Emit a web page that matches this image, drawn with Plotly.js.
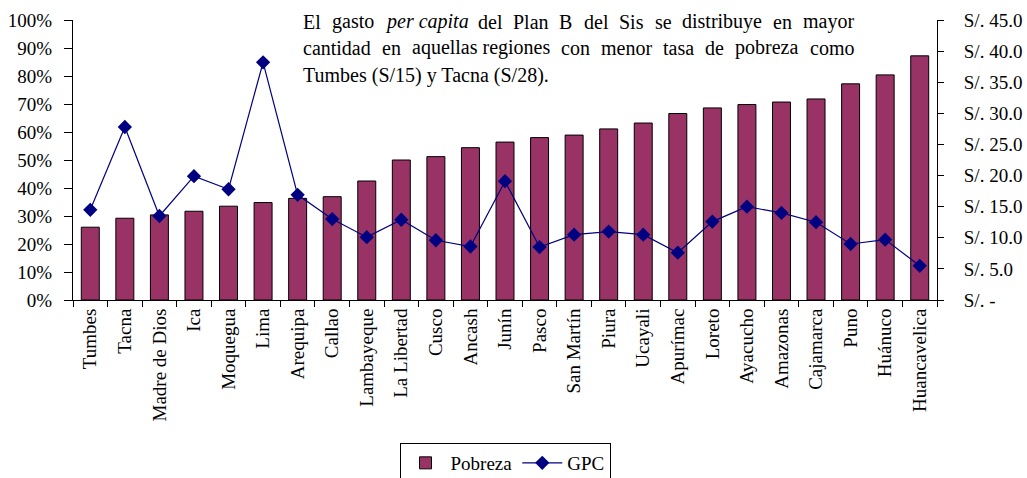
<!DOCTYPE html>
<html>
<head>
<meta charset="utf-8">
<script src="https://cdn.plot.ly/plotly-3.0.1.min.js"></script>
<style>html,body{margin:0;padding:0;background:#fff;}#chart{width:1027px;height:478px;}</style>
</head>
<body>
<div id="chart"></div>
<script>
const regions = ["Tumbes","Tacna","Madre de Dios","Ica","Moquegua","Lima","Arequipa","Callao","Lambayeque","La Libertad","Cusco","Ancash","Junín","Pasco","San Martín","Piura","Ucayali","Apurímac","Loreto","Ayacucho","Amazonas","Cajamarca","Puno","Huánuco","Huancavelica"];
const pobreza = [0.260,0.292,0.304,0.317,0.335,0.348,0.363,0.369,0.425,0.500,0.512,0.544,0.564,0.580,0.589,0.611,0.632,0.666,0.686,0.698,0.707,0.718,0.772,0.804,0.872];
const gpc = [14.5,27.8,13.5,19.9,17.8,38.2,16.9,13.0,10.1,12.9,9.6,8.6,19.1,8.5,10.5,11.0,10.5,7.6,12.6,15.0,14.0,12.5,9.0,9.7,5.5];
const leftTickVals = [0,0.1,0.2,0.3,0.4,0.5,0.6,0.7,0.8,0.9,1];
const rightTickVals = [0,5,10,15,20,25,30,35,40,45];
const rightTickText = ["S/. -","S/. 5.0","S/. 10.0","S/. 15.0","S/. 20.0","S/. 25.0","S/. 30.0","S/. 35.0","S/. 40.0","S/. 45.0"];
const noteLines = [
  ["El","gasto","<i>per capita</i>","del","Plan","B","del","Sis","se","distribuye","en","mayor"],
  ["cantidad","en","aquellas regiones","con","menor","tasa","de","pobreza","como"],
  ["Tumbes (S/15) y Tacna (S/28)."]
];

const FONT = "Liberation Serif";
const FS = 19;
const NFS = 20;
const L = 73, R = 90, T = 20, B = 178, W = 1027, H = 478;
const plotW = W - L - R, plotH = H - T - B;

const traces = [
  {type:"bar", name:"Pobreza", x:regions, y:pobreza, width:0.52,
   marker:{color:"#993366", line:{color:"#000000", width:1}}},
  {type:"scatter", mode:"lines+markers", name:"GPC", x:regions, y:gpc, yaxis:"y2",
   line:{color:"#000080", width:1.2},
   marker:{symbol:"diamond", size:11, color:"#000080"}}
];

// justified note text
const ctx = document.createElement("canvas").getContext("2d");
function measure(w){
  const italic = w.indexOf("<i>")>=0;
  const t = w.replace(/<\/?i>/g,"");
  ctx.font = (italic?"italic ":"") + NFS + "px '" + FONT + "'";
  return ctx.measureText(t).width;
}
const noteLeft = 302, noteRight = 853;
const lineY = [22, 48, 75];
const annotations = [];
noteLines.forEach((words, li) => {
  const widths = words.map(measure);
  const total = widths.reduce((a,b)=>a+b,0);
  const justify = li < noteLines.length - 1;
  const gap = justify ? (noteRight - noteLeft - total) / (words.length - 1) : 5;
  let xpos = noteLeft;
  words.forEach((w, i) => {
    annotations.push({
      xref:"paper", yref:"paper",
      x:(xpos - L)/plotW, y:(H - B - lineY[li])/plotH,
      xanchor:"left", yanchor:"middle", showarrow:false, borderpad:0,
      text:w, font:{family:FONT, size:NFS, color:"#000"}
    });
    xpos += widths[i] + gap;
  });
});

const layout = {
  width:W, height:H,
  margin:{l:L, r:R, t:T, b:B, pad:0, autoexpand:false},
  paper_bgcolor:"#fff", plot_bgcolor:"#fff",
  font:{family:FONT, size:FS, color:"#000"},
  showlegend:true,
  legend:{orientation:"h", xref:"container", yref:"container", x:505/W, xanchor:"center", y:(H - 443)/H, yanchor:"top",
    bordercolor:"#000", borderwidth:1, tracegroupgap:0, itemwidth:40,
    font:{family:FONT, size:FS, color:"#000"}},
  xaxis:{type:"category", range:[-0.5, regions.length - 0.5], tickangle:-90, showline:true, linecolor:"#000", linewidth:1,
    ticks:"outside", tickson:"boundaries", ticklen:6, tickcolor:"#000", automargin:false,
    showgrid:false, zeroline:false, tickfont:{family:FONT, size:FS, color:"#000"}},
  yaxis:{range:[0,1], tickvals:leftTickVals, tickformat:".0%", automargin:false,
    showline:true, linecolor:"#000", ticks:"outside", ticklen:8, tickcolor:"#000", ticklabelstandoff:8,
    showgrid:false, zeroline:false, tickfont:{family:FONT, size:FS, color:"#000"}},
  yaxis2:{range:[0,45], overlaying:"y", side:"right", tickvals:rightTickVals, ticktext:rightTickText, automargin:false,
    showline:true, linecolor:"#000", ticks:"outside", ticklen:6, tickcolor:"#000", ticklabelstandoff:16,
    showgrid:false, zeroline:false, tickfont:{family:FONT, size:FS, color:"#000"}},
  annotations:annotations
};

Plotly.newPlot("chart", traces, layout, {displayModeBar:false, staticPlot:true});
</script>
</body>
</html>
